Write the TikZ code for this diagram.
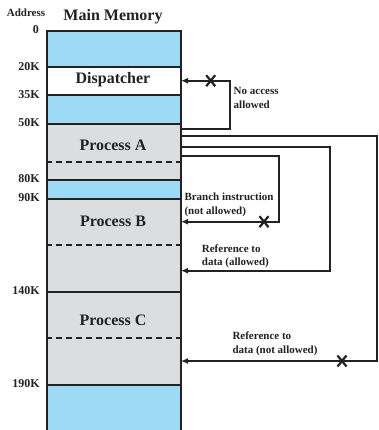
\documentclass[tikz,border=0pt]{standalone}
\usepackage{fontspec}
\setmainfont{Liberation Serif}
\usetikzlibrary{arrows.meta}
\definecolor{memblue}{HTML}{9CDAF6}
\definecolor{memgray}{HTML}{DCDDDF}
\definecolor{ink}{HTML}{222222}
\begin{document}
\begin{tikzpicture}[x=1pt,y=-1pt,
  blk/.style={draw=ink,line width=2pt,minimum width=134pt,inner sep=0pt,anchor=north west},
  big/.style={font=\fontsize{16}{18}\selectfont\bfseries,text=ink},
  addr/.style={font=\fontsize{12}{14}\selectfont\bfseries,text=ink,anchor=east,inner sep=0pt},
  lbl/.style={font=\fontsize{11}{13.5}\selectfont\bfseries,text=ink,align=left,anchor=west,inner sep=0pt},
  conn/.style={draw=ink,line width=2pt,-{Latex[length=7pt,width=6pt]}},
  sepline/.style={draw=ink,line width=2pt,dash pattern=on 6pt off 4pt},
  xmark/.style={draw=ink,line width=2.2pt}]
\useasboundingbox (0,0) rectangle (378,430);
% memory blocks
\node[blk,fill=memblue,minimum height=36.5pt] (free0) at (46,30) {};
\node[blk,fill=white,minimum height=28pt] (disp) at (46,66.5) {};
\node[blk,fill=memblue,minimum height=28.5pt] (free1) at (46,94.5) {};
\node[blk,fill=memgray,minimum height=55.7pt] (procA) at (46,123) {};
\node[blk,fill=memblue,minimum height=19pt] (free2) at (46,178.7) {};
\node[blk,fill=memgray,minimum height=93pt] (procB) at (46,197.7) {};
\node[blk,fill=memgray,minimum height=93.3pt] (procC) at (46,290.7) {};
\node[blk,fill=memblue,minimum height=50pt] (free3) at (46,384) {};
% dashed separators
\draw[sepline] (procA.west |- 0,162) -- (procA.east |- 0,162);
\draw[sepline] (procB.west |- 0,244.7) -- (procB.east |- 0,244.7);
\draw[sepline] (procC.west |- 0,338) -- (procC.east |- 0,338);
% block texts
\node[big] (tdisp) at (113,80) {Dispatcher};
\node[big] (tA) at (113,145) {Process A};
\node[big] (tB) at (113,221) {Process B};
\node[big] (tC) at (113,320) {Process C};
% headings
\node[font=\fontsize{11}{13}\selectfont\bfseries,text=ink,anchor=base,inner sep=0pt] (haddr) at (26,16.7) {Address};
\node[font=\fontsize{16}{18}\selectfont\bfseries,text=ink,anchor=base,inner sep=0pt] (hmem) at (113,20.7) {Main Memory};
% addresses
\node[addr] (a0) at (39,30) {0};
\node[addr] (a20) at (40,66.5) {20K};
\node[addr] (a35) at (40,94.5) {35K};
\node[addr] (a50) at (40,123) {50K};
\node[addr] (a80) at (40,178.7) {80K};
\node[addr] (a90) at (40,197.7) {90K};
\node[addr] (a140) at (40,290.7) {140K};
\node[addr] (a190) at (40,384) {190K};
% connector coordinates
\coordinate (s1) at (180,128.7);
\coordinate (e1) at (181,80.7);
\coordinate (s2) at (180,136);
\coordinate (e2) at (181,361);
\coordinate (s3) at (180,146.7);
\coordinate (e3) at (181,270.7);
\coordinate (s4) at (180,156);
\coordinate (e4) at (181,221.7);
% connectors
\draw[conn] (s1) -- (230,128.7) -- (230,80.7) -- (e1);
\draw[conn] (s2) -- (376.8,136) -- (376.8,361) -- (e2);
\draw[conn] (s3) -- (330,146.7) -- (330,270.7) -- (e3);
\draw[conn] (s4) -- (278.7,156) -- (278.7,221.7) -- (e4);
% X marks
\foreach \cx/\cy in {210.7/80.7, 264/221.7, 342/361}
  \draw[xmark] (\cx-4.5,\cy-5.5) -- (\cx+4.5,\cy+5.5) (\cx-4.5,\cy+5.5) -- (\cx+4.5,\cy-5.5);
% labels
\node[lbl] (l1) at (233.5,98) {No access\\allowed};
\node[lbl] (l2) at (184.3,204.8) {Branch instruction\\(not allowed)};
\node[lbl] (l3) at (201.7,256.4) {Reference to\\data (allowed)};
\node[lbl] (l4) at (232.3,343.8) {Reference to\\data (not allowed)};
\end{tikzpicture}
\end{document}
